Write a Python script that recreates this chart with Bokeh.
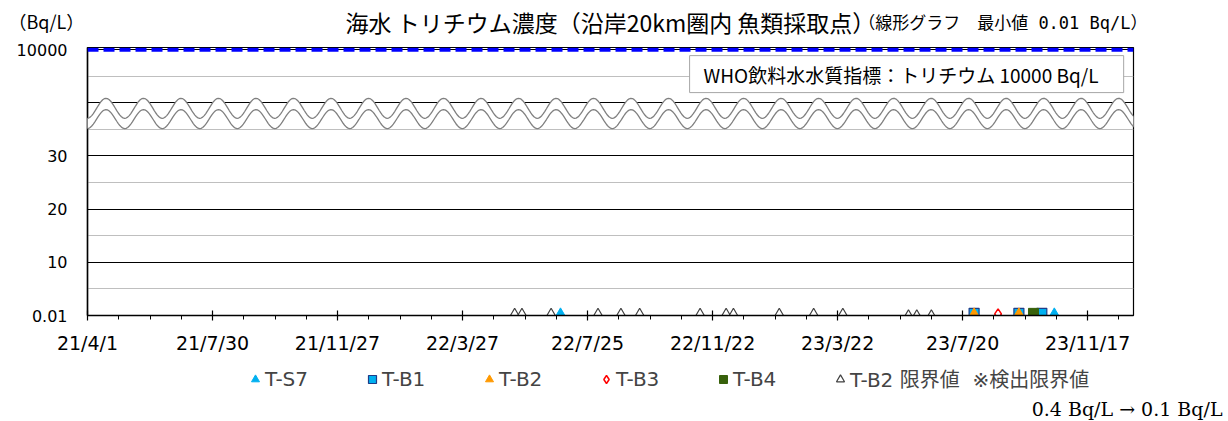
import numpy as np
import pandas as pd
from bokeh.plotting import figure
from bokeh.layouts import column
from bokeh.models import (FixedTicker, Range1d, Grid, Span, Label, Legend,
                          LegendItem, PolyAnnotation, BoxAnnotation)
from bokeh.embed import file_html
from bokeh.resources import INLINE

# ---------------- data ----------------
start = pd.Timestamp("2021-04-01")
x_tick_days = [0, 120, 240, 360, 480, 600, 720, 840, 960]
x_tick_labels = ["21/4/1", "21/7/30", "21/11/27", "22/3/27", "22/7/25",
                 "22/11/22", "23/3/22", "23/7/20", "23/11/17"]
y_tick_pos = [0, 10, 20, 30, 50]
y_tick_labels = ["0.01", "10", "20", "30", "10000"]

ts7_dates = ["2022-06-29", "2023-10-16"]
ts7_vals = [0.35, 0.35]
tb1_dates = ["2023-07-31", "2023-09-12", "2023-10-04"]
tb1_vals = [0.4, 0.4, 0.4]
tb2_dates = ["2023-07-31", "2023-09-12"]
tb2_vals = [0.35, 0.35]
tb3_dates = ["2023-08-23"]
tb3_vals = [0.3]
tb4_dates = ["2023-09-26"]
tb4_vals = [0.4]
tb2lim_dates = ["2022-05-16", "2022-05-23", "2022-06-20", "2022-08-04",
                "2022-08-26", "2022-09-13", "2022-11-10", "2022-12-05",
                "2022-12-12", "2023-01-25", "2023-02-27", "2023-03-27",
                "2023-05-29", "2023-06-06", "2023-06-20", "2023-08-23"]
tb2lim_vals = [0.4, 0.4, 0.4, 0.4, 0.4, 0.4, 0.4, 0.4,
               0.4, 0.4, 0.4, 0.4, 0.1, 0.1, 0.1, 0.1]

who_value = 10000
who_label = "WHO飲料水水質指標：トリチウム 10000 Bq/L"
title_main = "海水 トリチウム濃度（沿岸20km圏内 魚類採取点）"
title_sub = "（線形グラフ　最小値 0.01 Bq/L）"
unit_label = "（Bq/L）"
note_label = "0.4 Bq/L → 0.1 Bq/L"
legend_labels = ["T-S7", "T-B1", "T-B2", "T-B3", "T-B4", "T-B2 限界値  ※検出限界値"]

series = [
    ("s7", ts7_dates, ts7_vals),
    ("b1", tb1_dates, tb1_vals),
    ("b2", tb2_dates, tb2_vals),
    ("b3", tb3_dates, tb3_vals),
    ("b4", tb4_dates, tb4_vals),
    ("lim", tb2lim_dates, tb2lim_vals),
]


def days(dates):
    return [(pd.Timestamp(d) - start).days for d in dates]


W = 1228
HEAD_H = 39
MAIN_BOTTOM = 359
MAIN_H = MAIN_BOTTOM - HEAD_H
FOOT_H = 421 - MAIN_BOTTOM

# ---------------- layout helpers (page px -> data of main plot) ----------------
PXD = 1000.0 / 960.0     # px per day
PYU = 5.32               # px per y unit


def dx(px):
    return (px - 87) / PXD


def dy(py):
    return (315 - py) / PYU


CJK = "Noto Sans CJK JP"

styles = {
    "lim": dict(marker="triangle", size=9, fill_color="white", line_color="#404040", line_width=1.2),
    "b1": dict(marker="square", size=10, fill_color="#00B0F0", line_color="#1F3C88", line_width=1.2),
    "b2": dict(marker="triangle", size=10, fill_color="#FF9900", line_color="#FF9900"),
    "b3": dict(marker="diamond", size=10, fill_color="white", line_color="#FF0000", line_width=1.5),
    "b4": dict(marker="square", size=10, fill_color="#38610B", line_color="#38610B"),
    "s7": dict(marker="triangle", size=10, fill_color="#00B0F0", line_color="#00B0F0"),
}
draw_order = ["lim", "b1", "b2", "b3", "b4", "s7"]

# ---------------- header ----------------
head = figure(width=W, height=HEAD_H, x_range=Range1d(0, W), y_range=Range1d(HEAD_H, 0),
              x_axis_type=None, y_axis_type=None, output_backend="svg",
              toolbar_location=None, min_border=0)
head.frame_align = False
head.outline_line_color = None
head.add_layout(Label(x=8, y=20, text=unit_label, text_font=CJK, text_font_size="18px",
                      text_baseline="middle", text_color="black"))
head.add_layout(Label(x=345, y=21, text=title_main, text_font=CJK, text_font_size="23px",
                      text_baseline="middle", text_color="black"))
head.add_layout(Label(x=1147, y=22, text=title_sub,
                      text_font="DejaVu Sans Mono, Noto Sans CJK JP", text_font_size="17px",
                      text_align="right", text_baseline="middle", text_color="black"))

# ---------------- main plot ----------------
p = figure(width=W, height=MAIN_H, x_range=Range1d(0, 1004), y_range=Range1d(0, 50.4),
           output_backend="svg", toolbar_location=None,
           min_border_left=87, min_border_right=95, min_border_top=47 - HEAD_H,
           min_border_bottom=MAIN_BOTTOM - 315)
p.frame_align = False
p.background_fill_color = "white"
p.border_fill_color = "white"
p.outline_line_color = "black"
p.outline_line_width = 1.2
p.xgrid.visible = False
p.ygrid.visible = False

p.add_layout(Grid(dimension=1, ticker=FixedTicker(ticks=[5, 15, 25, 35, 45]),
                  grid_line_color="#BFBFBF", grid_line_width=1))
p.add_layout(Grid(dimension=1, ticker=FixedTicker(ticks=[10, 20, 30, 40, 50]),
                  grid_line_color="black", grid_line_width=1))

xa = p.xaxis[0]
xa.ticker = FixedTicker(ticks=x_tick_days, minor_ticks=list(range(0, 1005, 30)))
xa.major_label_overrides = {d: l for d, l in zip(x_tick_days, x_tick_labels)}
xa.major_label_text_font = "DejaVu Sans"
xa.major_label_text_font_size = "19px"
xa.major_label_text_color = "black"
xa.axis_line_color = "black"
xa.axis_line_width = 1.5
xa.major_tick_in = 5
xa.major_tick_out = 5
xa.major_tick_line_color = "black"
xa.major_tick_line_width = 1.2
xa.minor_tick_in = 0
xa.minor_tick_out = 4
xa.minor_tick_line_color = "black"
xa.major_label_standoff = 11

ya = p.yaxis[0]
ya.ticker = FixedTicker(ticks=y_tick_pos)
ya.major_label_overrides = {v: l for v, l in zip(y_tick_pos, y_tick_labels)}
ya.major_label_text_font = "DejaVu Sans"
ya.major_label_text_font_size = "16px"
ya.major_label_text_color = "black"
ya.axis_line_color = "black"
ya.axis_line_width = 1.5
ya.major_tick_line_color = None
ya.minor_tick_line_color = None
ya.major_tick_in = 0
ya.major_tick_out = 0
ya.major_label_standoff = 20

# WHO guideline (10000 Bq/L drawn at the top of the broken axis)
p.add_layout(Span(location=y_tick_pos[y_tick_labels.index(str(who_value))],
                  dimension="width", line_color="#0000FF", line_width=4, line_dash="11 5"))

p.add_layout(BoxAnnotation(left=dx(689), right=dx(1123), top=dy(55), bottom=dy(92),
                           fill_color="white", fill_alpha=1.0,
                           line_color="#A6A6A6", line_alpha=1.0, line_width=1))
p.add_layout(Label(x=dx(703), y=dy(74), text=who_label,
                   text_font=CJK, text_font_size="19px",
                   text_baseline="middle", text_color="black"))

# axis-break waves (decoration)
wx = np.linspace(dx(60), dx(1152), 700)
phase = 2 * np.pi * (wx - dx(68)) / (37.5 / PXD)
w1 = dy(107.7) + (10.0 / PYU) * np.cos(phase)
w2 = dy(118.5) + (9.5 / PYU) * np.cos(phase)
p.add_layout(PolyAnnotation(xs=list(wx) + list(wx[::-1]), ys=list(w1) + list(w2[::-1]),
                            fill_color="white", fill_alpha=1.0, line_color=None))
for w in (w1, w2):
    p.add_layout(PolyAnnotation(xs=list(wx) + list(wx[::-1]), ys=list(w) + list(w[::-1]),
                                fill_alpha=0, line_color="#808080", line_alpha=1.0,
                                line_width=1.3))

series_map = {k: (d, v) for k, d, v in series}
for k in draw_order:
    d, v = series_map[k]
    p.scatter(days(d), v, **styles[k])

# ---------------- footer: legend + note ----------------
foot = figure(width=W, height=FOOT_H, x_range=Range1d(0, W), y_range=Range1d(FOOT_H, 0),
              x_axis_type=None, y_axis_type=None, output_backend="svg",
              toolbar_location=None, min_border=0)
foot.frame_align = False
foot.outline_line_color = None
legend_rs = []
for k, d, v in series:
    r = foot.scatter(days(d), v, **styles[k])
    r.visible = False          # only used as legend glyph source
    legend_rs.append(r)
legend = Legend(items=[LegendItem(label=l, renderers=[r]) for l, r in zip(legend_labels, legend_rs)],
                location=(245, FOOT_H - 34), orientation="horizontal",
                glyph_width=20, glyph_height=20, label_standoff=0, label_width=92, spacing=5,
                padding=0, margin=0, border_line_color=None, background_fill_alpha=0,
                label_text_font="DejaVu Sans, Noto Sans CJK JP", label_text_font_size="20px",
                label_text_baseline="middle", label_height=20, click_policy="none")
foot.add_layout(legend)
foot.add_layout(Label(x=1222, y=49, text=note_label, text_font="DejaVu Serif",
                      text_font_size="19px", text_align="right", text_baseline="middle",
                      text_color="black"))

layout = column(head, p, foot, spacing=0)
open("out.html", "w").write(file_html(layout, INLINE))
